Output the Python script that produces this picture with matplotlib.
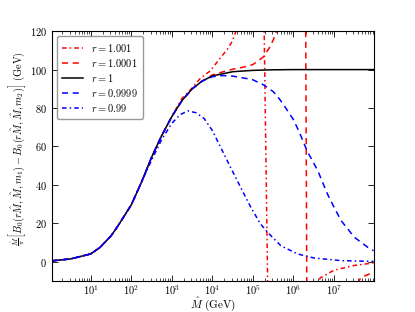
import matplotlib
matplotlib.use('Agg')
import matplotlib.pyplot as plt

plt.rcParams['font.family'] = 'serif'
plt.rcParams['font.serif'] = ['cmr10', 'DejaVu Serif']
plt.rcParams['mathtext.fontset'] = 'cm'
plt.rcParams['axes.unicode_minus'] = False
plt.rcParams['axes.formatter.use_mathtext'] = True
plt.rcParams['xtick.direction'] = 'in'
plt.rcParams['ytick.direction'] = 'in'
plt.rcParams['xtick.top'] = True
plt.rcParams['ytick.right'] = True

# common part of all curves (low M-hat)
m_low = [1.1, 3.2, 10, 17, 32, 45, 100, 180]
f_low = [0.4, 1.4, 4.0, 7.4, 13.5, 18.0, 29.5, 41.5]

# r = 1
m_r1 = m_low + [320, 560, 1000, 1800, 3200, 5600, 1e4, 3.2e4, 1e5, 3.2e5, 1e6, 1e8]
f_r1 = f_low + [54.5, 65.5, 75.5, 84.0, 90.0, 94.0, 96.7, 98.9, 99.6, 99.9, 100, 100]

# r = 1.001 (pole near 2e5)
m_r1001 = m_low + [320, 560, 1000, 1780, 2900, 5100, 9100, 13200, 23400, 31600,
                   39800, 63100, 1e5, 1.45e5, 3.6e5, 1.6e6, 4.6e6, 1e7, 3.2e7, 9.5e7]
f_r1001 = f_low + [54.5, 65.5, 75.5, 85.0, 89.5, 95.5, 99.5, 104.0, 110.5, 115.0,
                   121, 140, 170, 300, -300, -30, -8.5, -4.5, -2.0, -0.7]

# r = 1.0001 (pole near 2e6)
m_r10001 = m_low + [320, 560, 1000, 1800, 3200, 5600, 1e4, 1.8e4, 3.2e4, 5.6e4,
                    1e5, 1.8e5, 2.5e5, 3.2e5, 4e5, 6.3e5, 1e6, 1.6e6, 1.86e6, 2.45e6,
                    1e7, 3.2e7, 4.7e7, 9.5e7]
f_r10001 = f_low + [54.5, 65.5, 75.5, 84.0, 90.0, 94.0, 97.2, 98.8, 100.2, 101.2,
                    102.6, 106.5, 111, 115.5, 121, 135, 160, 230, 300, -300,
                    -40, -14, -8.2, -5.6]

# r = 0.9999
m_r09999 = m_low + [320, 560, 1000, 1800, 3200, 5600, 1e4, 1.8e4, 3.2e4, 7.2e4,
                    1e5, 1.86e5, 3.2e5, 4.5e5, 5.9e5, 1e6, 1.4e6, 2.2e6, 4e6,
                    6.9e6, 1e7, 1.5e7, 3.2e7, 6.8e7, 9.5e7]
f_r09999 = f_low + [54.5, 65.5, 75.5, 84.0, 90.0, 94.0, 96.3, 96.9, 96.6, 95.3,
                    94.7, 92.0, 88.5, 84.8, 81.3, 74.0, 67.5, 57.5, 47.4,
                    35.3, 28.5, 21.4, 12.7, 7.5, 5.7]

# r = 0.99
m_r099 = m_low + [320, 560, 1000, 1600, 2500, 4000, 6300, 1e4, 1.6e4, 2.8e4,
                  5e4, 8.9e4, 1.55e5, 2.3e5, 4.9e5, 1.26e6, 3.2e6, 1.5e7, 9.5e7]
f_r099 = f_low + [53.0, 63.5, 72.0, 76.5, 78.5, 77.5, 74.5, 68.3, 59.6, 49.2,
                  38.7, 28.3, 19.6, 15.3, 8.3, 4.0, 1.9, 0.5, 0.1]

fig = plt.figure(figsize=(4.15, 3.12), dpi=100)
ax = fig.add_axes([0.125, 0.1, 0.775, 0.8])

lw = 1.1
ax.plot(m_r1001, f_r1001, color='r', ls=(0, (3, 2, 1, 2)), lw=lw, label=r'$r = 1.001$')
ax.plot(m_r10001, f_r10001, color='r', ls=(0, (4, 3)), lw=lw, label=r'$r = 1.0001$')
ax.plot(m_r1, f_r1, color='k', ls='-', lw=lw, label=r'$r = 1$')
ax.plot(m_r09999, f_r09999, color='b', ls=(0, (4, 3)), lw=lw, label=r'$r = 0.9999$')
ax.plot(m_r099, f_r099, color='b', ls=(0, (3, 2, 1, 2)), lw=lw, label=r'$r = 0.99$')

ax.set_xscale('log')
ax.set_xlim(1.1, 9.5e7)
ax.set_ylim(-10, 120)
ax.set_yticks([0, 20, 40, 60, 80, 100, 120])
ax.tick_params(labelsize=7.5, length=4, width=0.6)
ax.tick_params(axis='x', pad=1.5)
ax.tick_params(which='minor', length=2, width=0.5)
for s in ax.spines.values():
    s.set_linewidth(0.8)

ax.set_xlabel(r'$\hat{M}$ (GeV)', fontsize=8)
ax.xaxis.set_label_coords(0.5, -0.06)
ax.set_ylabel(r'$\frac{\hat{M}}{\pi}\left[B_0(r\hat{M},\hat{M},m_1)-B_0(r\hat{M},\hat{M},m_2)\right]$ (GeV)',
              fontsize=7.4)
ax.yaxis.set_label_coords(-0.075, 0.53)

leg = ax.legend(loc='upper left', fontsize=7.5, handlelength=2.0, labelspacing=0.3,
                borderpad=0.5, fancybox=True)
leg.get_frame().set_edgecolor('0.5')

fig.savefig('out.png', dpi=100)
